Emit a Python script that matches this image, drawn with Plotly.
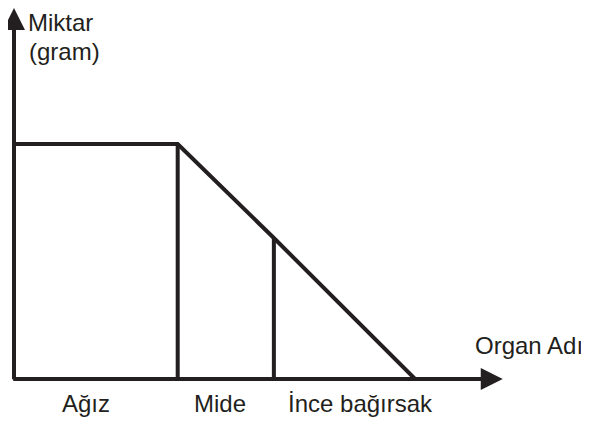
import plotly.graph_objects as go

# boundaries of the organs along the horizontal axis and the amount at each boundary
boundary_x = [0, 4, 6.35, 9.8]
amount_y = [10, 10, 6, 0]

organs = ["Ağız", "Mide", "İnce bağırsak"]
organ_label_x = [1.76, 5.03, 8.46]

y_title = ["Miktar", "(gram)"]
x_title = "Organ Adı"

INK = "#231f20"
FONT = "Liberation Sans, Arial, sans-serif"
FSIZE = 24

fig = go.Figure()

# the amount curve
fig.add_trace(go.Scatter(
    x=boundary_x, y=amount_y, mode="lines",
    line=dict(color=INK, width=4), hoverinfo="skip"))

# vertical dividers at the start of Mide and İnce bağırsak
for bx, by in zip(boundary_x[1:3], amount_y[1:3]):
    fig.add_trace(go.Scatter(
        x=[bx, bx], y=[0, by], mode="lines",
        line=dict(color=INK, width=4), hoverinfo="skip"))

# axes drawn as arrows
fig.add_annotation(x=0, y=1.0, xref="x domain", yref="y domain",
                   ax=0, ay=-0.005, axref="x domain", ayref="y domain",
                   text="", showarrow=True, arrowhead=2, arrowsize=1.1,
                   arrowwidth=4, arrowcolor=INK)
fig.add_annotation(x=0.85, y=0, xref="x domain", yref="y domain",
                   ax=-0.004, ay=0, axref="x domain", ayref="y domain",
                   text="", showarrow=True, arrowhead=2, arrowsize=1.1,
                   arrowwidth=4, arrowcolor=INK)

for name, lx in zip(organs, organ_label_x):
    fig.add_annotation(x=lx, y=-0.067, xref="x", yref="paper",
                       yanchor="middle", text=name, showarrow=False,
                       font=dict(family=FONT, size=FSIZE, color=INK))

fig.add_annotation(x=0.022, y=1.0, xref="paper", yref="paper",
                   xanchor="left", yanchor="top", borderpad=0, text=y_title[0],
                   showarrow=False, font=dict(family=FONT, size=FSIZE, color=INK))
fig.add_annotation(x=0.022, y=0.884, xref="paper", yref="paper",
                   xanchor="left", yanchor="middle", text=y_title[1],
                   showarrow=False, font=dict(family=FONT, size=FSIZE, color=INK))
fig.add_annotation(x=0.798, y=0.089, xref="paper", yref="paper",
                   xanchor="left", yanchor="middle", text=x_title,
                   showarrow=False, font=dict(family=FONT, size=FSIZE, color=INK))

# page is shown with an 8px body margin, so the figure is 8px smaller than the window
fig.update_layout(
    width=581, height=417,
    margin=dict(l=6, r=0, t=0, b=46),
    showlegend=False,
    plot_bgcolor="white", paper_bgcolor="white",
    xaxis=dict(visible=False, range=[0, 14.05], fixedrange=True),
    yaxis=dict(visible=False, range=[0, 15.79], fixedrange=True),
)

fig.write_html("out.html")
